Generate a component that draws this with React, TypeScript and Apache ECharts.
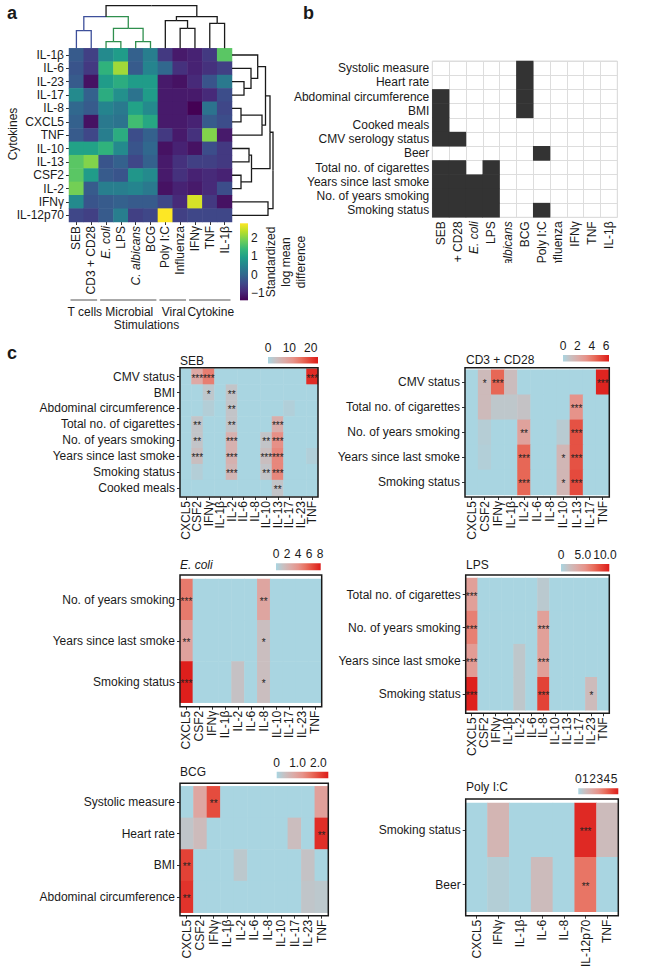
import React, { useEffect, useRef } from 'react';
import * as echarts from 'echarts';

const FONT = "'Liberation Sans', Arial, Helvetica, sans-serif";
const INK = '#1a1a1a';

// ---------------- Panel a data ----------------
const stimulations = ['SEB', 'CD3 + CD28', 'E. coli', 'LPS', 'C. albicans', 'BCG', 'Poly I:C', 'Influenza', 'IFNγ', 'TNF', 'IL-1β'];
const italicNames = ['E. coli', 'C. albicans'];
const cytokinesA = ['IL-1β', 'IL-6', 'IL-23', 'IL-17', 'IL-8', 'CXCL5', 'TNF', 'IL-10', 'IL-13', 'CSF2', 'IL-2', 'IFNγ', 'IL-12p70'];
const lmdValues = [
  [-0.2, -0.6, 0.6, 0.9, -0.1, 0.4, -0.7, -1.1, -1.0, -0.7, 1.7],
  [-0.3, -0.7, 1.3, 2.2, -0.2, 0.5, 0.0, -0.8, -1.0, -0.8, -0.6],
  [-0.2, -1.2, 0.9, 1.2, 0.9, 0.9, -1.1, -1.2, -0.9, -0.3, 0.3],
  [0.6, -0.1, 1.2, 0.7, 0.2, 0.9, -1.1, -1.1, -1.1, -0.9, -0.4],
  [0.0, -0.2, 0.5, 0.3, 1.0, 0.6, -1.1, -1.1, -1.4, 0.2, -0.5],
  [-0.1, -1.2, 0.3, 0.2, 1.5, 1.1, -1.1, -1.1, -1.0, -0.2, -0.4],
  [-0.2, -0.5, 0.4, 1.2, -0.4, -0.1, -0.7, -1.1, -0.8, 2.0, -1.1],
  [1.0, 1.0, 1.3, 0.6, -0.3, 0.0, -1.2, -1.0, -1.2, -0.4, -0.7],
  [1.7, 2.0, -0.3, -0.1, -0.5, -0.1, -1.1, -0.8, -0.6, -0.6, -0.7],
  [1.7, 0.9, -0.2, -0.3, 0.8, 0.6, -1.1, -0.8, -1.0, -0.9, -1.0],
  [1.9, -0.2, 0.4, 0.4, 0.5, 0.3, -1.2, -1.0, -1.1, -0.9, -0.4],
  [0.6, -0.3, -0.2, -0.1, -0.2, -0.2, -0.5, -0.9, 2.55, -0.7, -1.2],
  [-0.5, -0.6, -0.2, 0.4, -0.6, -0.5, 2.8, -0.6, -0.5, -0.5, -0.5],
];
const lmdRange = [-1.4, 2.8];
const lmdTicks = [-1, 0, 1, 2];
// dendrogram merges: [childA, childB, height]
const colMerges = [
  [0, 1, 17.6], [2, 3, 6.6], [4, 5, 6.6], [12, 13, 20], [11, 14, 31.6],
  [7, 8, 20], [6, 16, 27.6], [9, 10, 25], [17, 18, 31.6], [15, 19, 42.6],
];
const colLeafCluster = [1, 1, 2, 2, 2, 2, 0, 0, 0, 0, 0];
const rowMerges = [
  [2, 3, 12], [1, 13, 19], [0, 14, 25.7], [4, 5, 9], [16, 6, 30], [15, 17, 33.5],
  [7, 8, 17], [9, 10, 9], [19, 20, 19.5], [18, 21, 38], [11, 12, 36], [22, 23, 41],
];
const stimGroups = ['T cells', 'Microbial', 'Viral', 'Cytokine'];
const stimGroupSpans = [[0, 1], [2, 5], [6, 7], [8, 10]];

// ---------------- Panel b data ----------------
const traitsB = ['Systolic measure', 'Heart rate', 'Abdominal circumference', 'BMI', 'Cooked meals', 'CMV serology status', 'Beer', 'Total no. of cigarettes', 'Years since last smoke', 'No. of years smoking', 'Smoking status'];
const assocB = [
  [0, 0, 0, 0, 0, 1, 0, 0, 0, 0, 0],
  [0, 0, 0, 0, 0, 1, 0, 0, 0, 0, 0],
  [1, 0, 0, 0, 0, 1, 0, 0, 0, 0, 0],
  [1, 0, 0, 0, 0, 1, 0, 0, 0, 0, 0],
  [1, 0, 0, 0, 0, 0, 0, 0, 0, 0, 0],
  [1, 1, 0, 0, 0, 0, 0, 0, 0, 0, 0],
  [0, 0, 0, 0, 0, 0, 1, 0, 0, 0, 0],
  [1, 1, 0, 1, 0, 0, 0, 0, 0, 0, 0],
  [1, 1, 1, 1, 0, 0, 0, 0, 0, 0, 0],
  [1, 1, 1, 1, 0, 0, 0, 0, 0, 0, 0],
  [1, 1, 1, 1, 0, 0, 1, 0, 0, 0, 0],
];

// ---------------- Panel c data ----------------
const sebRows = ['CMV status', 'BMI', 'Abdominal circumference', 'Total no. of cigarettes', 'No. of years smoking', 'Years since last smoke', 'Smoking status', 'Cooked meals'];
const sebCols = ['CXCL5', 'CSF2', 'IFNγ', 'IL-1β', 'IL-2', 'IL-6', 'IL-8', 'IL-10', 'IL-13', 'IL-17', 'IL-23', 'TNF'];
const sebValues = [
  [0, 8, 14, 0, 0, 0, 0, 0, 0, 0, 0, 22],
  [0, 0, 2.5, 0, 3, 0, 0, 0, 0, 0, 0, 0],
  [0, 0, 1.2, 0, 3, 0, 0, 0, 0, 1, 0, 0],
  [0, 3, 0, 0, 3, 0, 0, 0, 7, 0, 0, 0],
  [0, 3, 0, 0, 6.5, 0, 0, 3, 12, 0, 0, 0],
  [0, 4, 0, 0, 6.5, 0, 0, 4, 13, 0, 0, 1],
  [0, 1.2, 0, 0, 5.5, 0, 0, 3, 13, 0, 0, 0],
  [0, 0, 0, 0, 0, 0, 0, 0, 3, 0, 0, 0],
];
const sebStars = [
  [0, 3, 3, 0, 0, 0, 0, 0, 0, 0, 0, 3],
  [0, 0, 1, 0, 2, 0, 0, 0, 0, 0, 0, 0],
  [0, 0, 0, 0, 2, 0, 0, 0, 0, 0, 0, 0],
  [0, 2, 0, 0, 2, 0, 0, 0, 3, 0, 0, 0],
  [0, 2, 0, 0, 3, 0, 0, 2, 3, 0, 0, 0],
  [0, 3, 0, 0, 3, 0, 0, 3, 3, 0, 0, 0],
  [0, 0, 0, 0, 3, 0, 0, 2, 3, 0, 0, 0],
  [0, 0, 0, 0, 0, 0, 0, 0, 2, 0, 0, 0],
];
const sebMax = 23.4;
const sebTicks = [0, 10, 20];
const sebTickLabels = ['0', '10', '20'];

const cd3Rows = ['CMV status', 'Total no. of cigarettes', 'No. of years smoking', 'Years since last smoke', 'Smoking status'];
const cd3Cols = ['CXCL5', 'CSF2', 'IFNγ', 'IL-1β', 'IL-2', 'IL-6', 'IL-8', 'IL-10', 'IL-13', 'IL-17', 'TNF'];
const cd3Values = [
  [0, 1.3, 4.5, 1.2, 0, 0, 0, 0, 0, 0, 6.2],
  [0, 1.3, 0.7, 0.7, 0.9, 0, 0, 0, 3.2, 0, 0],
  [0, 0.4, 0, 0, 2.5, 0, 0, 0.5, 5.0, 0, 0],
  [0, 0.3, 0, 0, 4.5, 0, 0, 1.5, 5.0, 0, 0],
  [0, 0, 0, 0, 4.5, 0, 0, 1.5, 5.2, 0, 0],
];
const cd3Stars = [
  [0, 1, 3, 0, 0, 0, 0, 0, 0, 0, 3],
  [0, 0, 0, 0, 0, 0, 0, 0, 3, 0, 0],
  [0, 0, 0, 0, 2, 0, 0, 0, 3, 0, 0],
  [0, 0, 0, 0, 3, 0, 0, 1, 3, 0, 0],
  [0, 0, 0, 0, 3, 0, 0, 1, 3, 0, 0],
];
const cd3Max = 6.4;
const cd3Ticks = [0, 2, 4, 6];
const cd3TickLabels = ['0', '2', '4', '6'];

const ecoliRows = ['No. of years smoking', 'Years since last smoke', 'Smoking status'];
const ecoliCols = ['CXCL5', 'CSF2', 'IFNγ', 'IL-1β', 'IL-2', 'IL-6', 'IL-8', 'IL-10', 'IL-17', 'IL-23', 'TNF'];
const ecoliValues = [
  [5.0, 0, 0, 0, 0, 0, 3.0, 0, 0, 0, 0],
  [3.2, 0, 0, 0, 0, 0, 1.4, 0, 0, 0, 0],
  [8.0, 0, 0, 0, 1.2, 0, 1.4, 0, 0, 0, 0],
];
const ecoliStars = [
  [3, 0, 0, 0, 0, 0, 2, 0, 0, 0, 0],
  [2, 0, 0, 0, 0, 0, 1, 0, 0, 0, 0],
  [3, 0, 0, 0, 0, 0, 1, 0, 0, 0, 0],
];
const ecoliMax = 8.1;
const ecoliTicks = [0, 2, 4, 6, 8];
const ecoliTickLabels = ['0', '2', '4', '6', '8'];

const lpsRows = ['Total no. of cigarettes', 'No. of years smoking', 'Years since last smoke', 'Smoking status'];
const lpsCols = ['CXCL5', 'CSF2', 'IFNγ', 'IL-1β', 'IL-2', 'IL-6', 'IL-8', 'IL-10', 'IL-13', 'IL-17', 'IL-23', 'TNF'];
const lpsValues = [
  [4.5, 0, 0, 0, 0, 0, 1.0, 0, 0, 0, 0, 0],
  [6.5, 0, 0, 0, 0, 0, 4.5, 0, 0, 0, 0, 0],
  [4.8, 0, 0, 0, 1.2, 0, 4.5, 0, 0, 0, 0, 0],
  [10.8, 0, 0, 0, 1.2, 0, 9.3, 0, 0, 0, 2.2, 0],
];
const lpsStars = [
  [3, 0, 0, 0, 0, 0, 0, 0, 0, 0, 0, 0],
  [3, 0, 0, 0, 0, 0, 3, 0, 0, 0, 0, 0],
  [3, 0, 0, 0, 0, 0, 3, 0, 0, 0, 0, 0],
  [3, 0, 0, 0, 0, 0, 3, 0, 0, 0, 1, 0],
];
const lpsMax = 11;
const lpsTicks = [0, 5, 10];
const lpsTickLabels = ['0', '5.0', '10.0'];

const bcgRows = ['Systolic measure', 'Heart rate', 'BMI', 'Abdominal circumference'];
const bcgCols = ['CXCL5', 'CSF2', 'IFNγ', 'IL-1β', 'IL-2', 'IL-6', 'IL-8', 'IL-10', 'IL-17', 'IL-23', 'TNF'];
const bcgValues = [
  [0, 0.9, 2.0, 0, 0, 0, 0, 0, 0, 0, 1.0],
  [0.3, 0.5, 0, 0, 0, 0, 0, 0, 0.45, 0, 2.3],
  [2.1, 0, 0, 0, 0.25, 0, 0, 0, 0, 0.35, 0],
  [2.25, 0, 0, 0, 0, 0, 0, 0, 0, 0.3, 0.25],
];
const bcgStars = [
  [0, 0, 2, 0, 0, 0, 0, 0, 0, 0, 0],
  [0, 0, 0, 0, 0, 0, 0, 0, 0, 0, 2],
  [2, 0, 0, 0, 0, 0, 0, 0, 0, 0, 0],
  [2, 0, 0, 0, 0, 0, 0, 0, 0, 0, 0],
];
const bcgMax = 2.48;
const bcgTicks = [0, 1, 2];
const bcgTickLabels = ['0', '1.0', '2.0'];

const polyRows = ['Smoking status', 'Beer'];
const polyCols = ['CXCL5', 'IFNγ', 'IL-1β', 'IL-6', 'IL-8', 'IL-12p70', 'TNF'];
const polyValues = [
  [0, 1.4, 0, 0, 0, 5.3, 1.1],
  [0, 0.3, 0, 1.1, 0, 3.6, 0],
];
const polyStars = [
  [0, 0, 0, 0, 0, 3, 0],
  [0, 0, 0, 0, 0, 2, 0],
];
const polyMax = 5.6;
const polyTicks = [0, 1, 2, 3, 4, 5];
const polyTickLabels = ['0', '1', '2', '3', '4', '5'];

// ---------------- styles & layout (pixels) ----------------
const VIRIDIS = ['#440154', '#482878', '#3e4989', '#31688e', '#26828e', '#1f9e89', '#35b779', '#6ece58', '#b5de2b', '#fde725'];
const ASSOC_COLORS = ['#a9d5e1', '#c9bfc0', '#dcaaa6', '#e6938a', '#e8705f', '#e44538', '#dd1c1a'];
const CLUSTER_COLORS = [INK, '#3d4f9a', '#2f8f4e'];
const LAY_A = { l: 69, t: 48.3, w: 163, h: 173.7 };
const LAY_A_TOP = { t: 4 };
const LAY_A_RIGHT = { w: 42 };
const LAY_A_BAR = { l: 240, t: 223.3, w: 8, h: 77 };
const LAY_B = { l: 432.3, t: 61, w: 185, h: 156.3 };
const LAY_C = [
  { frame: [180, 367.7, 138, 129.3], inset: 1, bar: [268, 357, 50, 6.5], title: [180, 360.7] },
  { frame: [465, 367.7, 144.3, 129.3], inset: 2, bar: [563, 355, 46, 6.5], title: [466, 360] },
  { frame: [180, 575, 141.7, 131.7], inset: 4, bar: [276, 563.3, 44.7, 7], title: [180, 565] },
  { frame: [465.7, 575, 143.6, 138.3], inset: 3, bar: [561, 564, 48.3, 7.5], title: [466, 565] },
  { frame: [180, 783.3, 148.3, 132.4], inset: 3, bar: [276.7, 771.7, 51.6, 6.6], title: [180, 771.7] },
  { frame: [465.7, 799, 152.6, 116.7], inset: 4, bar: [578.3, 788.3, 40, 6], title: [466, 786.7] },
];

const cPanels = [
  { title: 'SEB', italic: false, rows: sebRows, cols: sebCols, values: sebValues, stars: sebStars, max: sebMax, ticks: sebTicks, tickLabels: sebTickLabels },
  { title: 'CD3 + CD28', italic: false, rows: cd3Rows, cols: cd3Cols, values: cd3Values, stars: cd3Stars, max: cd3Max, ticks: cd3Ticks, tickLabels: cd3TickLabels },
  { title: 'E. coli', italic: true, rows: ecoliRows, cols: ecoliCols, values: ecoliValues, stars: ecoliStars, max: ecoliMax, ticks: ecoliTicks, tickLabels: ecoliTickLabels },
  { title: 'LPS', italic: false, rows: lpsRows, cols: lpsCols, values: lpsValues, stars: lpsStars, max: lpsMax, ticks: lpsTicks, tickLabels: lpsTickLabels },
  { title: 'BCG', italic: false, rows: bcgRows, cols: bcgCols, values: bcgValues, stars: bcgStars, max: bcgMax, ticks: bcgTicks, tickLabels: bcgTickLabels },
  { title: 'Poly I:C', italic: false, rows: polyRows, cols: polyCols, values: polyValues, stars: polyStars, max: polyMax, ticks: polyTicks, tickLabels: polyTickLabels },
];

const txt = { fontFamily: FONT, fontSize: 12, color: INK };
const richI = { i: { fontFamily: FONT, fontSize: 12, color: INK, fontStyle: 'italic' } };
const nameFmt = (v: string) => (italicNames.includes(v) ? `{i|${v}}` : v);
const gradStops = (colors: string[]) => colors.map((c, i) => ({ offset: i / (colors.length - 1), color: c }));
const toCells = (m: number[][]) => m.flatMap((row, i) => row.map((v, j) => [j, i, v]));

function dendroSegments(n: number, merges: number[][], leafColors: string[], horizontal: boolean) {
  const pos: number[] = [];
  const ht: number[] = [];
  const col: string[] = [];
  for (let i = 0; i < n; i++) { pos.push(i); ht.push(0); col.push(leafColors[i]); }
  const segs: any[] = [];
  merges.forEach(([a, b, h]) => {
    const mid = (pos[a] + pos[b]) / 2;
    [a, b].forEach((c) => {
      const pts = [[pos[c], ht[c]], [pos[c], h], [mid, h]];
      segs.push({ coords: horizontal ? pts : pts.map(([p, q]) => [q, p]), lineStyle: { color: col[c] } });
    });
    pos.push(mid);
    ht.push(h);
    col.push(col[a] === col[b] ? col[a] : INK);
  });
  return segs;
}

function textEl(x: number, y: number, text: string, extra: any = {}, rotation = 0) {
  return {
    type: 'text', x, y, rotation, z: 60,
    style: {
      text, fontFamily: FONT, fontSize: 12, fill: INK,
      textAlign: 'left', align: 'left', textVerticalAlign: 'middle', verticalAlign: 'middle',
      ...extra,
    },
  };
}

function buildOption() {
  const grid: any[] = [];
  const xAxis: any[] = [];
  const yAxis: any[] = [];
  const series: any[] = [];
  const visualMap: any[] = [];
  const graphic: any[] = [];
  const addGrid = (g: any, xa: any, ya: any) => {
    const i = grid.length;
    grid.push({ outerBoundsMode: 'none', containLabel: false, show: false, ...g });
    xAxis.push({ gridIndex: i, ...xa });
    yAxis.push({ gridIndex: i, ...ya });
    return i;
  };
  const tick = { show: true, alignWithLabel: true, length: 3, lineStyle: { color: '#333', width: 1 } };

  // ---- panel a heatmap
  const ia = addGrid(
    { left: LAY_A.l, top: LAY_A.t, width: LAY_A.w, height: LAY_A.h },
    { type: 'category', data: stimulations, axisLine: { show: false }, axisTick: tick, splitLine: { show: false },
      axisLabel: { ...txt, rotate: 90, interval: 0, margin: 4, formatter: nameFmt, rich: richI } },
    { type: 'category', data: cytokinesA, inverse: true, axisLine: { show: false }, axisTick: tick, splitLine: { show: false },
      axisLabel: { ...txt, interval: 0, margin: 5 } },
  );
  series.push({ type: 'heatmap', xAxisIndex: ia, yAxisIndex: ia, data: toCells(lmdValues), emphasis: { disabled: true }, silent: true });
  visualMap.push({ type: 'continuous', show: false, seriesIndex: series.length - 1, dimension: 2, min: lmdRange[0], max: lmdRange[1], inRange: { color: VIRIDIS } });

  // ---- top dendrogram
  const it = addGrid(
    { left: LAY_A.l, top: LAY_A_TOP.t, width: LAY_A.w, height: LAY_A.t - LAY_A_TOP.t },
    { type: 'value', show: false, min: -0.5, max: stimulations.length - 0.5 },
    { type: 'value', show: false, min: 0, max: LAY_A.t - LAY_A_TOP.t },
  );
  series.push({
    type: 'lines', coordinateSystem: 'cartesian2d', xAxisIndex: it, yAxisIndex: it, polyline: true, silent: true,
    lineStyle: { width: 1.3, opacity: 1 },
    data: dendroSegments(stimulations.length, colMerges, colLeafCluster.map((c) => CLUSTER_COLORS[c]), true),
  });

  // ---- right dendrogram
  const ir = addGrid(
    { left: LAY_A.l + LAY_A.w, top: LAY_A.t, width: LAY_A_RIGHT.w, height: LAY_A.h },
    { type: 'value', show: false, min: 0, max: LAY_A_RIGHT.w },
    { type: 'value', show: false, min: -0.5, max: cytokinesA.length - 0.5, inverse: true },
  );
  series.push({
    type: 'lines', coordinateSystem: 'cartesian2d', xAxisIndex: ir, yAxisIndex: ir, polyline: true, silent: true,
    lineStyle: { width: 1.3, opacity: 1 },
    data: dendroSegments(cytokinesA.length, rowMerges, cytokinesA.map(() => INK), false),
  });

  // ---- panel a colour bar
  addGrid(
    { left: LAY_A_BAR.l, top: LAY_A_BAR.t, width: LAY_A_BAR.w, height: LAY_A_BAR.h },
    { type: 'value', show: false, min: 0, max: 1 },
    { type: 'value', position: 'right', min: lmdRange[0], max: lmdRange[1], axisLine: { show: false }, axisTick: { show: false }, splitLine: { show: false },
      axisLabel: { ...txt, margin: 3, customValues: lmdTicks, formatter: (v: number) => String(v).replace('-', '−') } },
  );
  graphic.push({
    type: 'rect', z: 5, shape: { x: LAY_A_BAR.l, y: LAY_A_BAR.t, width: LAY_A_BAR.w, height: LAY_A_BAR.h },
    style: { fill: { type: 'linear', x: 0, y: 1, x2: 0, y2: 0, colorStops: gradStops(VIRIDIS) } },
  });
  graphic.push(textEl(286, 262, 'Standardized\nlog mean\ndifference', { textAlign: 'center', align: 'center', lineHeight: 15 }, Math.PI / 2));
  graphic.push(textEl(13, 134, 'Cytokines', { textAlign: 'center', align: 'center' }, Math.PI / 2));

  // group labels under panel a
  const cw = LAY_A.w / stimulations.length;
  stimGroups.forEach((g, k) => {
    const [s, e] = stimGroupSpans[k];
    const x1 = LAY_A.l + s * cw + 1.5;
    const x2 = LAY_A.l + (e + 1) * cw - 1.5;
    graphic.push({ type: 'line', z: 5, shape: { x1, y1: 300, x2, y2: 300 }, style: { stroke: '#555', lineWidth: 1 } });
    graphic.push(textEl((x1 + x2) / 2 + 1, 311.5, g, { textAlign: 'center', align: 'center' }));
  });
  graphic.push(textEl(LAY_A.l + LAY_A.w / 2 - 4, 325, 'Stimulations', { textAlign: 'center', align: 'center' }));

  // ---- panel b
  const ib = addGrid(
    { left: LAY_B.l, top: LAY_B.t, width: LAY_B.w, height: LAY_B.h, show: true, borderColor: '#dddddd', borderWidth: 1 },
    { type: 'category', data: stimulations, axisLine: { show: false }, axisTick: { show: false },
      splitLine: { show: true, interval: 0, lineStyle: { color: '#dddddd', width: 1 } },
      axisLabel: { ...txt, rotate: 90, interval: 0, margin: 4, formatter: nameFmt, rich: richI } },
    { type: 'category', data: traitsB, inverse: true, axisLine: { show: false }, axisTick: { show: false },
      splitLine: { show: true, interval: 0, lineStyle: { color: '#dddddd', width: 1 } },
      axisLabel: { ...txt, interval: 0, margin: 3 } },
  );
  series.push({ type: 'heatmap', xAxisIndex: ib, yAxisIndex: ib, data: toCells(assocB), emphasis: { disabled: true }, silent: true });
  visualMap.push({ type: 'piecewise', show: false, seriesIndex: series.length - 1, dimension: 2,
    pieces: [{ value: 0, color: 'rgba(255,255,255,0)' }, { value: 1, color: '#333333' }] });
  // labels of panel b are clipped in the original figure
  graphic.push({ type: 'rect', z: 100, shape: { x: 420, y: 263, width: 227, height: 45 }, style: { fill: '#ffffff' } });

  // ---- panel c
  cPanels.forEach((p, k) => {
    const L = LAY_C[k];
    const [fl, ft, fw, fh] = L.frame;
    const ic = addGrid(
      { left: fl, top: ft + L.inset, width: fw, height: fh - 2 * L.inset },
      { type: 'category', data: p.cols, offset: L.inset, axisLine: { show: false }, axisTick: tick, splitLine: { show: false },
        axisLabel: { ...txt, rotate: 90, interval: 0, margin: 4 } },
      { type: 'category', data: p.rows, inverse: true, axisLine: { show: false }, axisTick: tick, splitLine: { show: false },
        axisLabel: { ...txt, interval: 0, margin: 5 } },
    );
    const stars = p.stars;
    series.push({
      type: 'heatmap', xAxisIndex: ic, yAxisIndex: ic, data: toCells(p.values), emphasis: { disabled: true }, silent: true,
      label: { show: true, fontFamily: FONT, fontSize: 10, color: '#222', offset: [0, 1.5],
        formatter: (q: any) => '*'.repeat(stars[q.data[1]][q.data[0]]) },
    });
    visualMap.push({ type: 'continuous', show: false, seriesIndex: series.length - 1, dimension: 2, min: 0, max: p.max, inRange: { color: ASSOC_COLORS } });
    graphic.push({ type: 'rect', z: 50, shape: { x: fl, y: ft, width: fw, height: fh }, style: { fill: 'none', stroke: INK, lineWidth: 1.5 } });
    graphic.push(textEl(L.title[0], L.title[1], p.title, p.italic ? { fontStyle: 'italic' } : {}));

    const [bx, by, bw, bh] = L.bar;
    const ticks = p.ticks;
    const labels = p.tickLabels;
    addGrid(
      { left: bx, top: by, width: bw, height: bh },
      { type: 'value', position: 'top', min: 0, max: p.max, axisLine: { show: false }, axisTick: { show: false }, splitLine: { show: false },
        axisLabel: { ...txt, margin: 3, customValues: ticks, formatter: (v: number) => { const i = ticks.indexOf(v); return i >= 0 ? labels[i] : ''; } } },
      { type: 'value', show: false, min: 0, max: 1 },
    );
    graphic.push({ type: 'rect', z: 5, shape: { x: bx, y: by, width: bw, height: bh },
      style: { fill: { type: 'linear', x: 0, y: 0, x2: 1, y2: 0, colorStops: gradStops(ASSOC_COLORS) } } });
  });

  // panel letters
  graphic.push(textEl(7, 13, 'a', { fontSize: 18, fontWeight: 'bold' }));
  graphic.push(textEl(303, 13, 'b', { fontSize: 18, fontWeight: 'bold' }));
  graphic.push(textEl(7, 353, 'c', { fontSize: 18, fontWeight: 'bold' }));

  return {
    animation: false,
    backgroundColor: '#ffffff',
    textStyle: { fontFamily: FONT },
    grid, xAxis, yAxis, series, visualMap, graphic,
  };
}

export default function App() {
  const ref = useRef<HTMLDivElement>(null);
  useEffect(() => {
    const chart = echarts.init(ref.current as HTMLDivElement, null, { renderer: 'svg' });
    chart.setOption(buildOption() as any);
    return () => chart.dispose();
  }, []);
  return <div ref={ref} style={{ position: 'absolute', left: 0, top: 0, width: 647, height: 978, background: '#fff' }} />;
}
